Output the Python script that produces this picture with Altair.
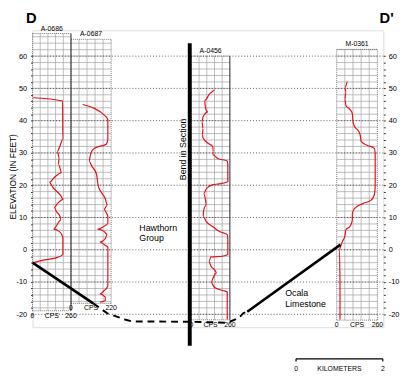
import altair as alt
import pandas as pd
import math

FONT = "Liberation Sans, Arial, sans-serif"
RED = "#e3121b"
X_DOMAIN = [0, 6.47]
Y_DOMAIN = [-24, 68]
W, H = 358, 303

# ---------------- wells ----------------
well_names = ["A-0686", "A-0687", "A-0456", "M-0361"]
well_left = [0.0, 0.71, 2.93, 5.61]
well_right = [0.71, 1.45, 3.64, 6.36]
well_top = [67.0, 65.2, 60.0, 62.1]
well_bottom = [-18.9, -16.6, -21.7, -21.8]
well_cps_max = [260, 220, 260, 260]
well_solid_right = [True, False, True, False]

# gamma-ray logs (elevation ft, counts per second)
a0686_elev = [47.1, 46.1, 34.2, 31.5, 30.5, 28.5, 26.5, 23.9, 22.4, 20.9, 19.4, 16.8, 15.6, 14.3,
              13.1, 11.8, 10.3, 9.2, 7.2, 6.4, 5.7, 4.7, 3.7, -1.5, -2.5, -3.2, -4.0]
a0686_cps = [3, 203, 205, 180, 168, 180, 175, 197, 147, 114, 136, 191, 208, 168,
             147, 162, 186, 191, 158, 142, 180, 197, 205, 205, 158, 71, 5]

a0687_elev = [45.0, 41.2, 40.2, 34.1, 32.7, 31.5, 30.0, 27.5, 26.0, 23.4, 21.4, 19.9, 17.8, 15.8,
              13.8, 12.5, 11.5, 10.3, 8.2, 7.4, 6.4, 5.7, 4.7, 3.2, 2.4, 1.5, 0.8, -11.2,
              -12.7, -13.7, -14.7, -15.7, -16.2]
a0687_cps = [64, 193, 202, 202, 193, 131, 109, 99, 113, 140, 145, 149, 166, 188,
             199, 181, 193, 202, 202, 185, 145, 181, 199, 185, 158, 185, 202, 202,
             181, 158, 188, 188, 158]

a0456_elev = [49.5, 48.2, 46.2, 43.7, 42.7, 41.2, 39.6, 37.6, 35.6, 34.6, 33.0, 32.0, 30.5, 29.5,
              28.3, 27.5, 26.5, 21.1, 20.4, 20.1, 18.9, 17.4, 15.3, 13.8, 12.3, 10.3, 8.7, 7.2,
              5.7, 4.7, 3.2, -1.5, -2.0, -2.2, -3.6, -5.1, -6.1, -7.1, -8.6, -10.1, -11.6, -12.6,
              -13.1, -21.6]
a0456_cps = [155, 122, 89, 96, 112, 79, 71, 79, 74, 79, 112, 144, 148, 144,
             177, 242, 246, 246, 187, 140, 101, 83, 96, 101, 83, 79, 101, 144,
             187, 242, 246, 246, 210, 133, 118, 133, 155, 171, 148, 133, 155, 210,
             242, 242]

m0361_elev = [52.0, 50.3, 48.8, 46.7, 44.7, 43.5, 42.2, 39.6, 38.1, 37.1, 35.6, 33.6, 32.3, 31.5,
              30.0, 19.4, 16.8, 15.3, 14.3, 12.8, 11.3, 9.2, 7.2, 6.2, 4.2, 2.6, 1.1, 0.0,
              -10.0, -21.6]
m0361_cps = [67, 52, 59, 52, 59, 84, 100, 104, 115, 135, 150, 156, 198, 239,
             246, 246, 239, 218, 166, 115, 100, 100, 84, 59, 52, 37, 25, 17,
             21, 21]

log_elev = [a0686_elev, a0687_elev, a0456_elev, m0361_elev]
log_cps = [a0686_cps, a0687_cps, a0456_cps, m0361_cps]

# ---------------- geologic contact (top of Ocala Limestone) ----------------
contact_solid1_mi = [0.0, 1.12]
contact_solid1_ft = [-4.0, -16.6]
contact_dash_mi = [1.12, 1.38, 1.72, 1.84, 2.90, 3.59, 3.80, 3.89, 3.96]
contact_dash_ft = [-16.6, -19.7, -21.7, -22.2, -22.3, -22.6, -21.2, -19.6, -19.2]
contact_solid2_mi = [3.96, 5.68]
contact_solid2_ft = [-19.2, 1.6]

bend_mi = 2.90
bend_ft = [64.0, -29.7]

grid_ft = list(range(-20, 61, 10))
axis_ft = list(range(-20, 61, 2))
mile_ticks = [round(0.2 * i, 1) for i in range(33)]

# ---------------- build tables ----------------
logs_rows = []
for n, l, r, m, ev, cp in zip(well_names, well_left, well_right, well_cps_max, log_elev, log_cps):
    for i, (e, c) in enumerate(zip(ev, cp)):
        logs_rows.append({"well": n, "i": i, "x": l + c / m * (r - l), "y": e})
logs = pd.DataFrame(logs_rows)

vgrid, hgrid, border, solid = [], [], [], []
for n, l, r, t, b, s in zip(well_names, well_left, well_right, well_top, well_bottom, well_solid_right):
    for k in range(1, 5):
        vgrid.append({"x": l + k * (r - l) / 5, "y": b, "y2": t})
    e = math.ceil(b / 2) * 2
    while e < t:
        hgrid.append({"x": l, "x2": r, "y": e})
        e += 2
    border += [{"x": l, "x2": l, "y": b, "y2": t},
               {"x": l, "x2": r, "y": t, "y2": t},
               {"x": l, "x2": r, "y": b, "y2": b}]
    if s:
        solid.append({"x": r, "x2": r, "y": b, "y2": t})
    else:
        border.append({"x": r, "x2": r, "y": b, "y2": t})

xsc = alt.Scale(domain=X_DOMAIN, nice=False, zero=False)
ysc = alt.Scale(domain=Y_DOMAIN, nice=False, zero=False)


def X(f="x"):
    return alt.X(f, type="quantitative", scale=xsc, axis=None)


def Y(f="y"):
    return alt.Y(f, type="quantitative", scale=ysc, axis=None)


vgrid_l = alt.Chart(pd.DataFrame(vgrid)).mark_rule(color="#a0a0a0", strokeWidth=0.7).encode(
    x=X(), y=Y(), y2="y2")
hgrid_l = alt.Chart(pd.DataFrame(hgrid)).mark_rule(color="#a0a0a0", strokeWidth=0.7).encode(
    x=X(), x2="x2", y=Y())
border_l = alt.Chart(pd.DataFrame(border)).mark_rule(color="#555", strokeWidth=0.8, strokeDash=[1, 1]).encode(
    x=X(), x2="x2", y=Y(), y2="y2")
solid_l = alt.Chart(pd.DataFrame(solid)).mark_rule(color="#222", strokeWidth=1).encode(
    x=X(), x2="x2", y=Y(), y2="y2")

grid_l = alt.Chart(pd.DataFrame({"y": grid_ft})).mark_rule(
    color="#333", strokeWidth=0.8, strokeDash=[1, 2]).encode(
    y=alt.Y("y:Q", scale=ysc, axis=alt.Axis(
        orient="left", values=axis_ft,
        labelExpr="datum.value % 10 == 0 ? '' + datum.value : ''",
        tickSize=2, tickColor="#333", domain=False, grid=False,
        labelFont=FONT, labelFontSize=7.5, labelColor="#000", labelPadding=4,
        title="ELEVATION (IN FEET)", titleFont=FONT, titleFontSize=8.5, titleFontWeight="normal",
        titleColor="#000", titleX=-20, titleY=149, titleAngle=270,
        titleBaseline="middle", titleAlign="center")))

right_axis_l = alt.Chart(pd.DataFrame({"y": grid_ft})).mark_point(opacity=0).encode(
    y=alt.Y("y:Q", scale=ysc, axis=alt.Axis(
        orient="right", values=axis_ft,
        labelExpr="datum.value % 10 == 0 ? '' + datum.value : ''",
        tickSize=2, tickColor="#333", domain=False, grid=False,
        labelFont=FONT, labelFontSize=7.5, labelColor="#000", labelPadding=3, title=None)),
    x=alt.value(W))

logs_l = alt.Chart(logs).mark_line(color=RED, strokeWidth=1.2, interpolate="monotone").encode(
    x=X(), y=Y(), detail="well:N", order="i:Q")

c1 = pd.DataFrame({"x": contact_solid1_mi, "y": contact_solid1_ft, "seg": "a"})
c2 = pd.DataFrame({"x": contact_solid2_mi, "y": contact_solid2_ft, "seg": "b"})
cs = pd.concat([c1, c2]).reset_index(drop=True)
cs["i"] = range(len(cs))
contact_l = alt.Chart(cs).mark_line(color="#000", strokeWidth=2.6).encode(
    x=alt.X("x:Q", scale=xsc, axis=alt.Axis(
        orient="bottom", values=mile_ticks,
        labelExpr="datum.value == floor(datum.value) ? '' + datum.value : ''",
        tickSize=4, tickColor="#000", domain=True, domainColor="#000", domainWidth=1, grid=False,
        labelFont=FONT, labelFontSize=8, labelColor="#000", labelPadding=2,
        title="MILES", titleFont=FONT, titleFontSize=9, titleFontWeight="normal", titleColor="#000",
        titleX=179, titleY=22, titleAlign="center", titleBaseline="middle")),
    y=Y(), detail="seg:N", order="i:Q")

cd = pd.DataFrame({"x": contact_dash_mi, "y": contact_dash_ft})
cd["i"] = range(len(cd))
dash_l = alt.Chart(cd).mark_line(color="#000", strokeWidth=2, strokeDash=[7, 5]).encode(
    x=X(), y=Y(), order="i:Q")

bend_l = alt.Chart(pd.DataFrame({"x": [bend_mi], "y": [bend_ft[0]], "y2": [bend_ft[1]]})).mark_rule(
    color="#000", strokeWidth=4).encode(x=X(), y=Y(), y2="y2")

# ---------------- texts ----------------
wl = pd.DataFrame({"x": [(l + r) / 2 for l, r in zip(well_left, well_right)], "y": well_top, "t": well_names})
wlabel_l = alt.Chart(wl).mark_text(font=FONT, fontSize=7, baseline="bottom", dy=-2, color="#000").encode(
    x=X(), y=Y(), text="t:N")

cps_rows = []
for l, r, b, m in zip(well_left, well_right, well_bottom, well_cps_max):
    cps_rows += [{"x": l, "y": b, "t": "0"}, {"x": (l + r) / 2, "y": b, "t": "CPS"}, {"x": r, "y": b, "t": str(m)}]
cps_l = alt.Chart(pd.DataFrame(cps_rows)).mark_text(font=FONT, fontSize=7, baseline="top", dy=1, color="#000").encode(
    x=X(), y=Y(), text="t:N")

notes = pd.DataFrame({
    "x": [1.97, 1.97, 4.66, 4.66],
    "y": [6.6, 3.7, -13.5, -16.8],
    "t": ["Hawthorn", "Group", "Ocala", "Limestone"]})
notes_l = alt.Chart(notes).mark_text(font=FONT, fontSize=9, align="left", baseline="middle", color="#000").encode(
    x=X(), y=Y(), text="t:N")

bend_txt = alt.Chart(pd.DataFrame({"x": [2.78], "y": [31.1], "t": ["Bend in Section"]})).mark_text(
    font=FONT, fontSize=9, angle=270, align="center", baseline="middle", color="#000").encode(
    x=X(), y=Y(), text="t:N")

dd = pd.DataFrame({"x": [-0.02, 6.53], "y": [70.3, 70.3], "t": ["D", "D'"]})
dd_l = alt.Chart(dd).mark_text(font=FONT, fontSize=15, fontWeight="bold",
                               align="center", baseline="alphabetic", color="#000").encode(
    x=X(), y=Y(), text="t:N")

# kilometre scale bar
km_x0, km_x1, km_y, km_tick = 4.86, 6.46, -33.8, -34.6
km_bar = alt.Chart(pd.DataFrame({"x": [km_x0], "x2": [km_x1], "y": [km_y]})).mark_rule(
    color="#000", strokeWidth=1.2).encode(x=X(), x2="x2", y=Y())
km_ticks = alt.Chart(pd.DataFrame({"x": [km_x0, km_x1], "y": [km_y] * 2, "y2": [km_tick] * 2})).mark_rule(
    color="#000", strokeWidth=1.2).encode(x=X(), y=Y(), y2="y2")
km_txt = alt.Chart(pd.DataFrame({"x": [km_x0, (km_x0 + km_x1) / 2, km_x1], "y": [-36.8] * 3,
                                 "t": ["0", "KILOMETERS", "2"]})).mark_text(
    font=FONT, fontSize=7, baseline="middle", color="#000").encode(x=X(), y=Y(), text="t:N")

chart = alt.layer(
    vgrid_l, hgrid_l, border_l, solid_l, grid_l, right_axis_l, logs_l, dash_l, contact_l, bend_l,
    wlabel_l, cps_l, notes_l, bend_txt, dd_l, km_bar, km_ticks, km_txt
).resolve_scale(y="shared", x="shared").resolve_axis(y="independent").properties(
    width=W, height=H,
    autosize=alt.AutoSizeParams(type="none"),
    padding={"left": 25, "top": 19, "right": 17, "bottom": 45},
).configure_view(stroke=None).configure(background="white")

chart.save("out.html", embed_options={"renderer": "svg", "actions": False})
